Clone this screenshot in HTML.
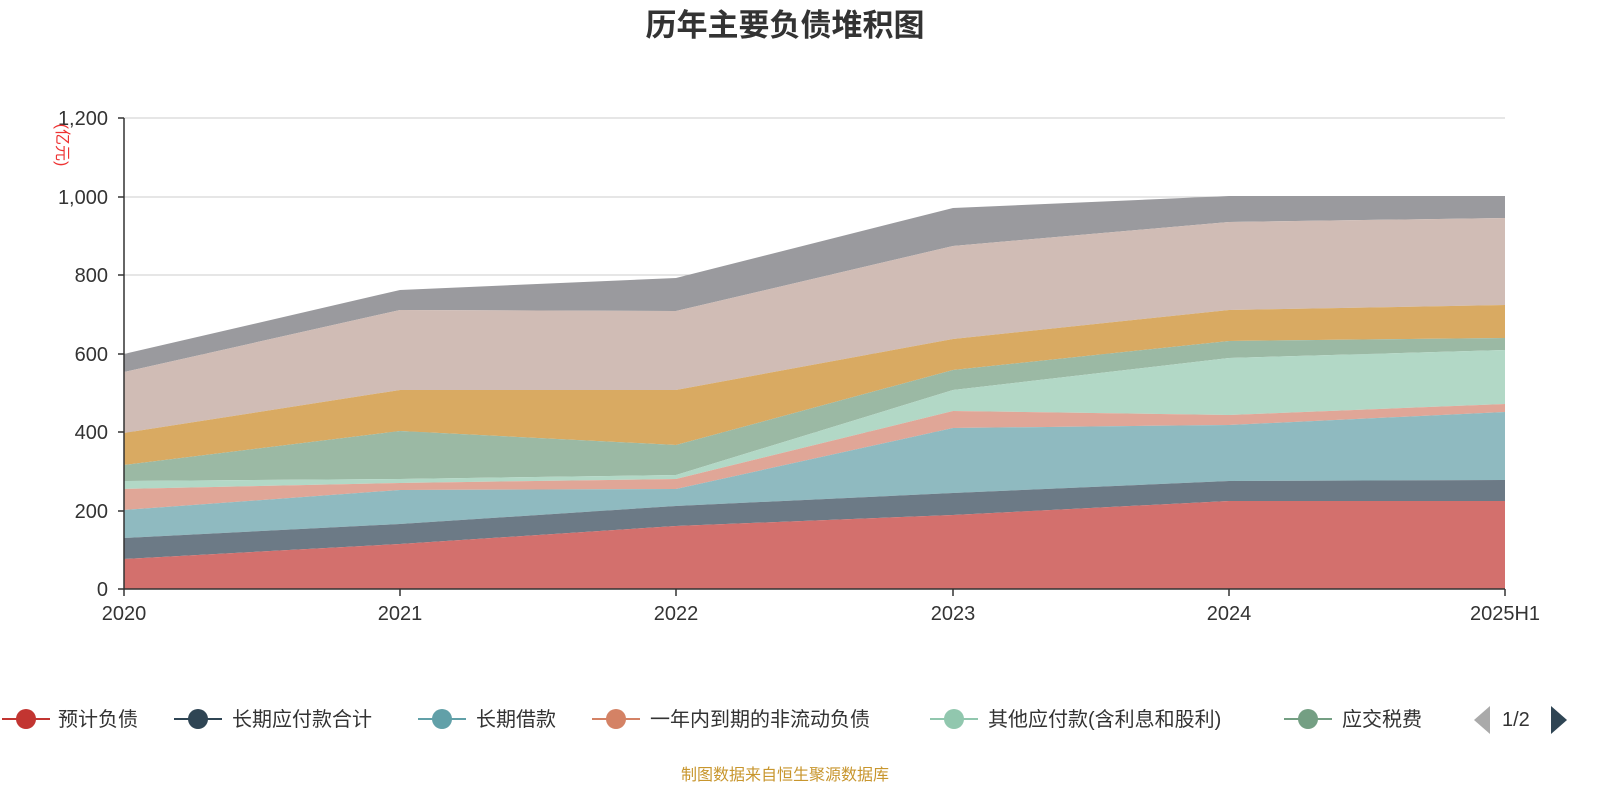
<!DOCTYPE html>
<html><head><meta charset="utf-8"><style>
body{margin:0;background:#fff;width:1600px;height:800px;overflow:hidden;font-family:"Liberation Sans","Noto Sans CJK SC",sans-serif;}
</style></head><body>
<svg width="1600" height="800" xmlns="http://www.w3.org/2000/svg" font-family="Liberation Sans, Noto Sans CJK SC, sans-serif">
<text x="785" y="36" text-anchor="middle" font-size="31" font-weight="bold" fill="#333">历年主要负债堆积图</text>
<g stroke="#ccc" stroke-width="1">
<line x1="124" y1="118" x2="1505" y2="118"/><line x1="124" y1="197" x2="1505" y2="197"/>
<line x1="124" y1="275" x2="1505" y2="275"/><line x1="124" y1="354" x2="1505" y2="354"/>
<line x1="124" y1="432" x2="1505" y2="432"/><line x1="124" y1="511" x2="1505" y2="511"/>
</g>
<g>
<polygon fill="#9a9a9e" points="124,354 400,290 676,278 953,208 1229,196 1505,196 1505,218 1229,222 953,246 676,311 400,310 124,372"/>
<polygon fill="#d0bcb5" points="124,372 400,310 676,311 953,246 1229,222 1505,218 1505,305 1229,310 953,339 676,390 400,390 124,433"/>
<polygon fill="#d9aa62" points="124,433 400,390 676,390 953,339 1229,310 1505,305 1505,338 1229,341 953,370 676,445 400,431 124,465"/>
<polygon fill="#9bb9a4" points="124,465 400,431 676,445 953,370 1229,341 1505,338 1505,350 1229,358 953,390 676,475 400,479 124,481"/>
<polygon fill="#b2d8c6" points="124,481 400,479 676,475 953,390 1229,358 1505,350 1505,404 1229,415 953,411 676,479 400,483 124,489"/>
<polygon fill="#e0a697" points="124,489 400,483 676,479 953,411 1229,415 1505,404 1505,412 1229,425 953,428 676,489 400,490 124,510"/>
<polygon fill="#8fbac0" points="124,510 400,490 676,489 953,428 1229,425 1505,412 1505,480 1229,481 953,493 676,506 400,524 124,538"/>
<polygon fill="#6c7a86" points="124,538 400,524 676,506 953,493 1229,481 1505,480 1505,501 1229,501 953,515 676,526 400,544 124,559"/>
<polygon fill="#d3706d" points="124,559 400,544 676,526 953,515 1229,501 1505,501 1505,589 124,589"/>
</g>
<g stroke="#333" stroke-width="1.5">
<line x1="124" y1="118" x2="124" y2="589"/><line x1="124" y1="589" x2="1505" y2="589"/>
<line x1="118" y1="118" x2="124" y2="118"/><line x1="118" y1="197" x2="124" y2="197"/><line x1="118" y1="275" x2="124" y2="275"/>
<line x1="118" y1="354" x2="124" y2="354"/><line x1="118" y1="432" x2="124" y2="432"/><line x1="118" y1="511" x2="124" y2="511"/><line x1="118" y1="589" x2="124" y2="589"/>
<line x1="124" y1="589" x2="124" y2="596"/><line x1="400" y1="589" x2="400" y2="596"/><line x1="676" y1="589" x2="676" y2="596"/>
<line x1="953" y1="589" x2="953" y2="596"/><line x1="1229" y1="589" x2="1229" y2="596"/><line x1="1505" y1="589" x2="1505" y2="596"/>
</g>
<g font-size="20" fill="#333" text-anchor="end">
<text x="108" y="125">1,200</text><text x="108" y="204">1,000</text><text x="108" y="282">800</text>
<text x="108" y="361">600</text><text x="108" y="439">400</text><text x="108" y="518">200</text><text x="108" y="596">0</text>
</g>
<text transform="translate(57,145) rotate(90)" font-size="16" fill="#e33" text-anchor="middle">(亿元)</text>
<g font-size="20" fill="#333" text-anchor="middle">
<text x="124" y="620">2020</text><text x="400" y="620">2021</text><text x="676" y="620">2022</text>
<text x="953" y="620">2023</text><text x="1229" y="620">2024</text><text x="1505" y="620">2025H1</text>
</g>
<g font-size="20" fill="#333">
<line x1="2" y1="719" x2="50" y2="719" stroke="#c23531" stroke-width="2"/><circle cx="26" cy="719" r="10" fill="#c23531"/><text x="58" y="726">预计负债</text>
<line x1="174" y1="719" x2="222" y2="719" stroke="#2f4554" stroke-width="2"/><circle cx="198" cy="719" r="10" fill="#2f4554"/><text x="232" y="726">长期应付款合计</text>
<line x1="418" y1="719" x2="466" y2="719" stroke="#61a0a8" stroke-width="2"/><circle cx="442" cy="719" r="10" fill="#61a0a8"/><text x="476" y="726">长期借款</text>
<line x1="592" y1="719" x2="640" y2="719" stroke="#d48265" stroke-width="2"/><circle cx="616" cy="719" r="10" fill="#d48265"/><text x="650" y="726">一年内到期的非流动负债</text>
<line x1="930" y1="719" x2="978" y2="719" stroke="#91c7ae" stroke-width="2"/><circle cx="954" cy="719" r="10" fill="#91c7ae"/><text x="988" y="726">其他应付款(含利息和股利)</text>
<line x1="1284" y1="719" x2="1332" y2="719" stroke="#749f83" stroke-width="2"/><circle cx="1308" cy="719" r="10" fill="#749f83"/><text x="1342" y="726">应交税费</text>
<polygon points="1490,706 1490,734 1474,720" fill="#aaa"/>
<text x="1502" y="726">1/2</text>
<polygon points="1551,706 1551,734 1567,720" fill="#2f4554"/>
</g>
<text x="785" y="780" text-anchor="middle" font-size="16" fill="#c8962e">制图数据来自恒生聚源数据库</text>
</svg>
</body></html>
